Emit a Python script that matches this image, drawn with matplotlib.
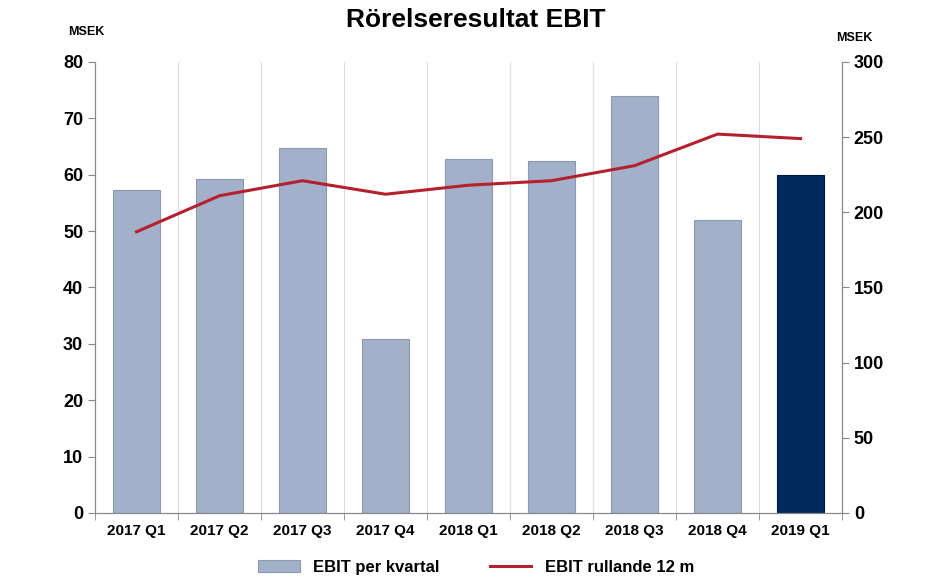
import matplotlib
matplotlib.use("Agg")
import matplotlib.pyplot as plt
import numpy as np

categories = ["2017 Q1","2017 Q2","2017 Q3","2017 Q4","2018 Q1","2018 Q2","2018 Q3","2018 Q4","2019 Q1"]
ebit_quarter = [57.3, 59.3, 64.8, 30.8, 62.8, 62.5, 74.0, 52.0, 60.0]
ebit_rolling = [187, 211, 221, 212, 218, 221, 231, 252, 249]

plt.rcParams["font.family"] = "Liberation Sans"
plt.rcParams["font.weight"] = "bold"

fig = plt.figure(figsize=(9.52, 5.82), dpi=100)
ax = fig.add_axes([0.0998, 0.1186, 0.7847, 0.775])
x = np.arange(len(categories))
colors = ["#A2B1C9"] * (len(categories) - 1) + ["#002B5C"]
edges = ["#8C9AB0"] * (len(categories) - 1) + ["#001A3A"]
ax.bar(x, ebit_quarter, width=0.57, color=colors, edgecolor=edges, linewidth=0.8,
       label="EBIT per kvartal", zorder=2)
ax.set_xlim(-0.5, len(categories) - 0.5)
ax.set_ylim(0, 80)
ax.set_yticks(range(0, 81, 10))
ax.set_xticks(x)
ax.set_xticklabels(categories, fontsize=11, fontweight="bold")
ax.tick_params(axis="x", length=0, pad=8)
ax.set_xticks(np.arange(-0.5, len(categories)), minor=True)
ax.tick_params(axis="x", which="minor", length=5, color="#888888")
ax.grid(axis="x", which="minor", color="#DDDDDD", linewidth=0.8, zorder=0)
ax.tick_params(axis="y", labelsize=13, color="#888888", length=5)
for s in ["top"]:
    ax.spines[s].set_visible(False)
for s in ["left", "bottom", "right"]:
    ax.spines[s].set_color("#888888")

ax2 = ax.twinx()
ax2.plot(x, ebit_rolling, color="#B5202E", linewidth=2.2, label="EBIT rullande 12 m")
ax2.set_ylim(0, 300)
ax2.set_yticks(range(0, 301, 50))
ax2.tick_params(axis="y", labelsize=13, color="#888888", length=5)
ax2.spines["top"].set_visible(False)
for s in ["left", "bottom", "right"]:
    ax2.spines[s].set_color("#888888")

fig.text(0.5, 0.965, "Rörelseresultat EBIT", ha="center", va="center", fontsize=19, fontweight="bold")
fig.text(0.072, 0.945, "MSEK", ha="left", va="center", fontsize=9, fontweight="bold")
fig.text(0.878, 0.935, "MSEK", ha="left", va="center", fontsize=9, fontweight="bold")

h1, l1 = ax.get_legend_handles_labels()
h2, l2 = ax2.get_legend_handles_labels()
fig.legend(h1 + h2, l1 + l2, loc="center", bbox_to_anchor=(0.5, 0.025), ncol=2,
           frameon=False, fontsize=12, handlelength=2.5, columnspacing=3,
           prop={"weight": "bold", "size": 12})
fig.savefig("out.png", dpi=100)
